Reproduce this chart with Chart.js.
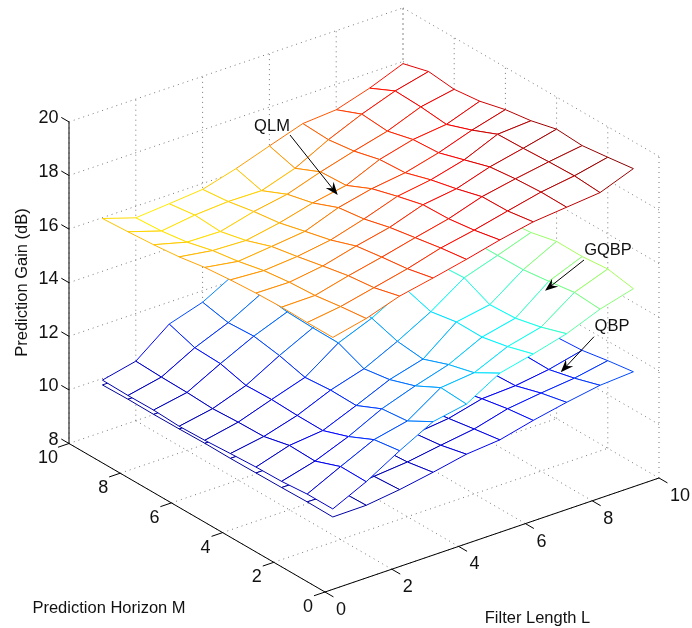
<!DOCTYPE html>
<html>
<head>
<meta charset="utf-8">
<title>Prediction Gain</title>
<script src="https://cdn.jsdelivr.net/npm/chart.js@4/dist/chart.umd.js"></script>
<style>
  html, body { margin:0; padding:0; background:#fff; }
  canvas { display:block; }
</style>
</head>
<body>
<canvas id="gainChart" width="692" height="628"></canvas>
<script>
// Grid of the surfaces and the axis ticks
const filterLengths = [1,2,3,4,5,6,7,8,9,10];
const horizons = [1,2,3,4,5,6,7,8,9,10];
const lTicks = [0,2,4,6,8,10];
const mTicks = [0,2,4,6,8,10];
const gainTicks = [8,10,12,14,16,18,20];

// Prediction gain in dB, one row per filter length L, columns M = 1..10
const qlmGain = [
  [16.52,16.52,16.54,16.51,16.45,16.36,16.20,16.10,16.03,15.97],
  [16.80,16.69,16.55,16.49,16.37,16.16,16.01,15.77,15.63,15.57],
  [17.21,16.97,16.86,16.67,16.47,16.29,15.96,15.74,15.80,15.67],
  [17.46,17.25,17.13,16.99,16.66,16.43,16.19,16.06,15.88,15.78],
  [17.73,17.60,17.43,17.26,17.02,16.89,16.51,16.28,15.86,16.13],
  [18.03,17.84,17.71,17.68,17.44,17.17,16.74,16.69,16.27,16.55],
  [18.28,18.13,18.11,17.85,17.63,17.34,17.28,17.04,16.91,16.96],
  [18.40,18.41,18.35,18.24,17.95,17.66,17.60,17.36,17.44,17.05],
  [18.52,18.59,18.56,18.51,18.48,18.08,17.74,17.84,17.88,17.43],
  [18.99,18.86,18.74,18.80,18.56,18.42,18.18,18.07,18.18,17.92]
];
const gqbpGain = [
  [10.12,10.12,10.04,10.02,9.97,9.91,9.88,9.93,9.92,9.94],
  [10.71,10.72,10.37,10.40,10.18,10.16,10.11,10.16,10.18,10.22],
  [11.44,11.30,10.86,10.53,10.54,10.58,10.55,10.81,10.85,11.18],
  [12.10,11.57,11.47,11.04,11.06,10.98,11.24,11.41,11.36,11.57],
  [12.33,12.39,11.90,11.58,11.43,11.84,11.85,11.89,12.03,12.25],
  [13.06,12.52,12.27,11.92,12.03,12.34,12.43,12.54,12.64,12.84],
  [13.35,13.07,12.87,12.88,12.71,13.02,13.04,13.14,13.24,13.34],
  [13.68,13.37,13.15,13.10,13.55,13.49,13.55,13.65,13.75,13.85],
  [14.17,14.24,14.10,13.98,13.96,13.95,14.05,14.15,14.25,14.35],
  [14.51,14.69,14.60,14.61,14.39,14.29,14.35,14.45,14.55,14.65]
];
const qbpGain = [
  [9.82,9.83,9.81,9.80,9.79,9.80,9.78,9.77,9.78,9.76],
  [9.83,9.80,9.80,9.80,9.79,9.78,9.78,9.77,9.77,9.76],
  [9.99,9.93,9.88,9.85,9.83,9.82,9.80,9.80,9.79,9.78],
  [10.21,10.04,9.97,9.92,9.88,9.86,9.84,9.83,9.82,9.80],
  [10.46,10.24,10.12,10.02,9.96,9.92,9.90,9.88,9.86,9.85],
  [10.57,10.42,10.26,10.12,10.05,10.00,9.97,9.94,9.92,9.90],
  [10.87,10.75,10.57,10.35,10.20,10.10,10.05,10.02,10.00,9.97],
  [11.12,10.91,10.63,10.59,10.40,10.25,10.18,10.12,10.08,10.05],
  [11.33,11.04,10.81,10.82,10.60,10.45,10.32,10.25,10.20,10.15],
  [11.41,11.27,11.10,11.04,10.85,10.65,10.50,10.40,10.35,10.30]
];

// View of the 3D box: (L, M, gain) to the flat x/y scales of the chart
function project(L, M, gain){
  return {
    x: 325 + 33.4*L - 25.6*M,
    y: 592 - 11.4*L - 14.85*M - (gain - 8)*26.8,
    z: gain
  };
}

// Matlab jet colormap
function jet(gain){
  const t = Math.min(1, Math.max(0, (gain - 9.5) / 9.5));
  const ch = v => Math.round(255 * Math.min(1, Math.max(0, v)));
  const r = ch(Math.min(4*t - 1.5, 4.5 - 4*t));
  const g = ch(Math.min(4*t - 0.5, 3.5 - 4*t));
  const b = ch(Math.min(4*t + 0.5, 2.5 - 4*t));
  return `rgb(${r},${g},${b})`;
}

// White patch plus coloured edges, so nearer cells hide what is behind them
function cellDatasets(surface, i, j){
  const corner = (a, b) => project(filterLengths[a], horizons[b], surface[a][b]);
  const pts = [corner(i,j), corner(i+1,j), corner(i+1,j+1), corner(i,j+1)];
  const sets = [{ data:[...pts, pts[0]], showLine:true, fill:'shape', backgroundColor:'#fff',
                  borderWidth:0, borderColor:'rgba(0,0,0,0)', pointRadius:0 }];
  pts.forEach((p, k) => {
    const q = pts[(k+1) % 4];
    sets.push({ data:[p, q], showLine:true, fill:false, borderWidth:1,
                borderColor:jet((p.z + q.z)/2), pointRadius:0 });
  });
  return sets;
}

function straight(from, to, color, dash){
  return { data:[project(...from), project(...to)], showLine:true, fill:false, borderWidth:1,
           borderColor:color, borderDash:dash || [], pointRadius:0 };
}

const dots = [1,4];
const gridColor = '#777';
const backToFront = [];

// Floor and the two back walls
lTicks.forEach(L => {
  backToFront.push(straight([L,0,8],[L,10,8],gridColor,dots));
  backToFront.push(straight([L,10,8],[L,10,20],gridColor,dots));
});
mTicks.forEach(M => {
  backToFront.push(straight([0,M,8],[10,M,8],gridColor,dots));
  backToFront.push(straight([10,M,8],[10,M,20],gridColor,dots));
});
gainTicks.slice(1).forEach(g => {
  backToFront.push(straight([0,10,g],[10,10,g],gridColor,dots));
  backToFront.push(straight([10,10,g],[10,0,g],gridColor,dots));
});

// Solid axes and tick marks
backToFront.push(straight([0,10,8],[0,10,20],'#000'));
backToFront.push(straight([0,0,8],[0,10,8],'#000'));
backToFront.push(straight([0,0,8],[10,0,8],'#000'));
gainTicks.forEach(g => backToFront.push(straight([0,10,g],[0,10.3,g],'#000')));
mTicks.forEach(M => backToFront.push(straight([0,M,8],[-0.33,M,8],'#000')));
lTicks.forEach(L => backToFront.push(straight([L,0,8],[L,-0.33,8],'#000')));

// Lowest surface first, far cells before near ones
[qbpGain, gqbpGain, qlmGain].forEach(surface => {
  for(let i = 8; i >= 0; i--){
    for(let j = 8; j >= 0; j--){
      backToFront.push(...cellDatasets(surface, i, j));
    }
  }
});

// Chart.js paints the first dataset on top
const datasets = backToFront.reverse();

// Text labels and the arrows
const arrows = [
  { text:'QLM',  tx:272, ty:126, from:[290,135], to:[337.7,195] },
  { text:'GQBP', tx:608, ty:250, from:[584,260], to:[545,290.7] },
  { text:'QBP',  tx:612, ty:326, from:[594,336.7], to:[560.7,372.3] }
];

const labelsPlugin = {
  id:'boxLabels',
  afterDatasetsDraw(chart){
    const c = chart.ctx;
    const px = v => chart.scales.x.getPixelForValue(v);
    const py = v => chart.scales.y.getPixelForValue(v);
    const text = (s, x, y) => c.fillText(s, px(x), py(y));
    c.save();
    c.fillStyle = '#111';
    c.textBaseline = 'middle';

    c.font = '18px "Liberation Sans"';
    c.textAlign = 'right';
    gainTicks.forEach(g => {
      const p = project(0,10,g);
      text(String(g), p.x - 10.5, p.y - 3.5);
    });
    c.textAlign = 'center';
    mTicks.forEach(M => {
      const p = project(0,M,8);
      text(String(M), p.x - (M === 10 ? 21 : 17), p.y + 15);
    });
    lTicks.forEach(L => {
      const p = project(L,0,8);
      text(String(L), p.x + (L === 10 ? 21 : 16), p.y + 18);
    });

    c.font = '16.5px "Liberation Sans"';
    text('Prediction Horizon M', 109, 608);
    text('Filter Length L', 537.5, 618);
    arrows.forEach(a => text(a.text, a.tx, a.ty));
    c.save();
    c.translate(px(22.5), py(282.5));
    c.rotate(-Math.PI/2);
    c.fillText('Prediction Gain (dB)', 0, 0);
    c.restore();

    // arrows with a swept back head
    c.strokeStyle = '#000';
    c.fillStyle = '#000';
    c.lineWidth = 1;
    arrows.forEach(a => {
      const x0 = px(a.from[0]), y0 = py(a.from[1]);
      const x1 = px(a.to[0]), y1 = py(a.to[1]);
      const n = Math.hypot(x1-x0, y1-y0);
      const ux = (x1-x0)/n, uy = (y1-y0)/n;
      c.beginPath();
      c.moveTo(x0, y0);
      c.lineTo(x1 - ux*6, y1 - uy*6);
      c.stroke();
      c.beginPath();
      c.moveTo(x1, y1);
      c.lineTo(x1 - ux*13 - uy*5, y1 - uy*13 + ux*5);
      c.lineTo(x1 - ux*8.5, y1 - uy*8.5);
      c.lineTo(x1 - ux*13 + uy*5, y1 - uy*13 - ux*5);
      c.closePath();
      c.fill();
    });
    c.restore();
  }
};

new Chart(document.getElementById('gainChart').getContext('2d'), {
  type:'scatter',
  data:{ datasets },
  options:{
    responsive:false,
    animation:false,
    events:[],
    layout:{ padding:0 },
    elements:{ line:{ tension:0 } },
    plugins:{ legend:{ display:false }, tooltip:{ enabled:false } },
    scales:{
      x:{ type:'linear', min:0, max:692, display:false },
      y:{ type:'linear', min:0, max:628, reverse:true, display:false }
    }
  },
  plugins:[labelsPlugin]
});
</script>
</body>
</html>
